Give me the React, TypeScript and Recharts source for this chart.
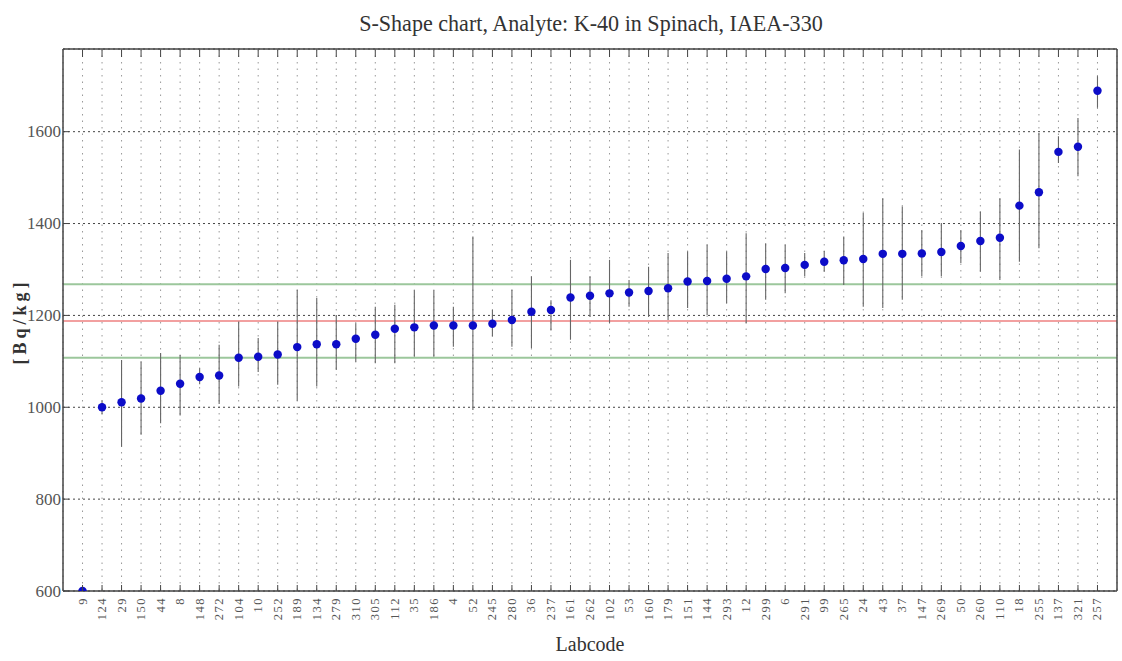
import React from 'react';
import {
  ComposedChart, Scatter, XAxis, YAxis, CartesianGrid, ReferenceLine, ErrorBar, ZAxis,
} from 'recharts';

const labcodes = ['9','124','29','150','44','8','148','272','104','10','252','189','134','279','310','305','112','35','186','4','52','245','280','36','237','161','262','102','53','160','179','151','144','293','12','299','6','291','99','265','24','43','37','147','269','50','260','110','18','255','137','321','257'];

const values = [600,1000,1011,1019,1036,1051,1066,1069,1108,1110,1115,1131,1137,1137,1149,1158,1171,1174,1178,1178,1178,1182,1190,1208,1212,1239,1243,1248,1250,1253,1259,1274,1275,1280,1285,1301,1303,1310,1317,1320,1323,1334,1334,1335,1338,1351,1362,1369,1439,1468,1556,1567,1689];

const lowerBounds = [600,985,914,940,965,982,1050,1007,1045,1077,1049,1014,1045,1081,1099,1096,1096,1110,1110,1132,994,1154,1132,1129,1167,1147,1197,1183,1219,1197,1190,1216,1201,1227,1183,1234,1248,1285,1295,1266,1219,1216,1234,1285,1285,1314,1295,1277,1317,1346,1532,1503,1652];

const upperBounds = [600,1015,1103,1099,1118,1114,1085,1136,1187,1151,1187,1256,1238,1201,1183,1219,1223,1255,1255,1219,1372,1212,1256,1285,1233,1321,1285,1321,1277,1306,1336,1339,1354,1339,1379,1357,1354,1336,1340,1372,1423,1455,1437,1386,1401,1386,1426,1455,1561,1597,1590,1630,1721];

const assignedValue = 1188;
const lowerLimit = 1108;
const upperLimit = 1268;

const yTicks = [600, 800, 1000, 1200, 1400, 1600];
const xTicks = labcodes.map((_, i) => i);

const data = values.map((v, i) => ({
  x: i,
  y: v,
  err: [v - lowerBounds[i], upperBounds[i] - v],
}));

const tickColor = '#555';
const frameColor = '#444';
const serif = '"Liberation Serif", "DejaVu Serif", serif';

const BottomTick = (props: any) => {
  const { x, y, payload } = props;
  return (
    <g>
      <line x1={x} y1={y} x2={x} y2={y - 6} stroke={frameColor} strokeWidth={1} />
      <text
        x={x}
        y={y + 6}
        transform={`rotate(-90, ${x}, ${y + 6})`}
        textAnchor="end"
        dominantBaseline="central"
        fontFamily={serif}
        fontSize={12.5}
        letterSpacing={1.5}
        fill={tickColor}
      >
        {labcodes[payload.value]}
      </text>
    </g>
  );
};

const TopTick = (props: any) => {
  const { x, y } = props;
  return <line x1={x} y1={y + 1} x2={x} y2={y + 8} stroke={frameColor} strokeWidth={1} />;
};

const LeftTick = (props: any) => {
  const { x, y, payload } = props;
  return (
    <g>
      <line x1={x + 2} y1={y} x2={x + 8} y2={y} stroke={frameColor} strokeWidth={1} />
      <text
        x={x}
        y={y}
        textAnchor="end"
        dominantBaseline="central"
        fontFamily={serif}
        fontSize={17}
        fill={tickColor}
      >
        {payload.value}
      </text>
    </g>
  );
};

export default function App() {
  return (
    <div style={{ position: 'absolute', left: 0, top: 0, width: 1122, height: 661, background: '#fff' }}>
      <div
        style={{
          position: 'absolute', left: 0, width: 1122, top: 10, textAlign: 'center',
          fontFamily: serif, fontSize: 24, color: '#333', whiteSpace: 'nowrap',
        }}
      >
        <span style={{ display: 'inline-block', transform: 'scaleX(0.92)', marginLeft: 60 }}>
          S-Shape chart, Analyte: K-40 in Spinach, IAEA-330
        </span>
      </div>
      <div
        style={{
          position: 'absolute', left: 490, width: 200, top: 633, textAlign: 'center',
          fontFamily: serif, fontSize: 20, color: '#333',
        }}
      >
        Labcode
      </div>
      <div
        style={{
          position: 'absolute', left: -40, top: 311, width: 120, textAlign: 'center',
          fontFamily: serif, fontSize: 18, fontWeight: 'bold', color: '#333',
          transform: 'rotate(-90deg)', letterSpacing: 4, whiteSpace: 'nowrap',
        }}
      >
        [Bq/kg]
      </div>
      <ComposedChart
        width={1122}
        height={661}
        data={data}
        margin={{ top: 49, right: 4, bottom: 0, left: 0 }}
        style={{ position: 'absolute', left: 0, top: 0 }}
      >
        <CartesianGrid
          horizontal={false}
          vertical
          stroke="#999"
          strokeDasharray="1.5 5"
          strokeWidth={1}
        />
        <CartesianGrid
          horizontal
          vertical={false}
          stroke="#444"
          strokeDasharray="2 3"
          strokeWidth={1}
        />
        <XAxis
          dataKey="x"
          type="number"
          domain={[-1, 53]}
          ticks={xTicks}
          interval={0}
          allowDataOverflow
          height={70}
          tickSize={0}
          tickMargin={0}
          tickLine={false}
          tick={<BottomTick />}
          axisLine={{ stroke: frameColor, strokeWidth: 1.5 }}
        />
        <XAxis
          xAxisId="top"
          dataKey="x"
          type="number"
          orientation="top"
          mirror
          domain={[-1, 53]}
          ticks={xTicks}
          interval={0}
          allowDataOverflow
          height={1}
          tick={<TopTick />}
          tickSize={0}
          tickMargin={0}
          tickLine={false}
          axisLine={{ stroke: frameColor, strokeWidth: 1.5 }}
        />
        <YAxis
          dataKey="y"
          type="number"
          domain={[600, 1780]}
          ticks={yTicks}
          allowDataOverflow
          width={63}
          tickSize={0}
          tickMargin={2}
          tickLine={false}
          tick={<LeftTick />}
          axisLine={{ stroke: frameColor, strokeWidth: 1.5 }}
        />
        <YAxis
          yAxisId="right"
          orientation="right"
          type="number"
          domain={[600, 1780]}
          ticks={yTicks}
          width={1}
          tick={false}
          tickLine={false}
          axisLine={{ stroke: frameColor, strokeWidth: 1.5 }}
        />
        <ZAxis range={[56, 56]} />
        <ReferenceLine y={upperLimit} stroke="#9cc79c" strokeWidth={2} />
        <ReferenceLine y={lowerLimit} stroke="#9cc79c" strokeWidth={2} />
        <ReferenceLine y={assignedValue} stroke="#f2a0a0" strokeWidth={2} />
        <Scatter dataKey="y" fill="#0c0cc8" isAnimationActive={false}>
          <ErrorBar dataKey="err" direction="y" width={0} stroke="#666" strokeWidth={1.1} />
        </Scatter>
      </ComposedChart>
    </div>
  );
}
